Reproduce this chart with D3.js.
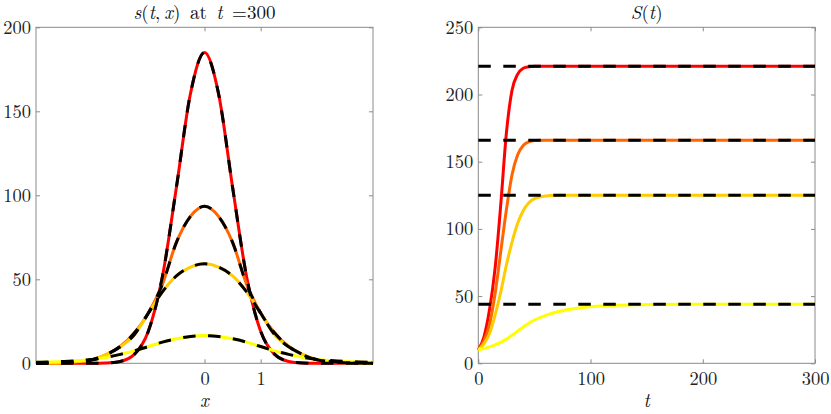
<!DOCTYPE html>
<html><head><meta charset="utf-8">
<script src="https://cdn.jsdelivr.net/npm/d3@7"></script>
<style>body{margin:0;background:#fff}</style>
</head><body>
<svg id="c" width="831" height="414"></svg>
<script>
// ---- Left panel data: s(t,x) at t = 300 ----
const xGrid = [-3,-2.75,-2.5,-2.25,-2,-1.75,-1.5,-1.25,-1,-0.75,-0.5,-0.25,0,0.25,0.5,0.75,1,1.25,1.5,1.75,2,2.25,2.5,2.75,3];
const sRed    = [0,0,0,0,0,0.2,1.1,5.3,19.1,51.5,104.8,160.5,185,160.5,104.8,51.5,19.1,5.3,1.1,0.2,0,0,0,0,0];
const sOrange = [0.05,0.15,0.4,1,2.1,5.2,10,18,30,47,72,87.5,93.5,87.5,72,47,30,18,10,5.2,2.1,1,0.4,0.15,0.05];
const sGold   = [0.05,0.15,0.4,1,2.1,5.1,9.8,17,29.8,42.5,52,57.3,59.2,57.3,52,42.5,29.8,17,9.8,5.1,2.1,1,0.4,0.15,0.05];
const sYellow = [0.6,0.8,1.1,1.6,2.3,3.5,5.3,7.4,10,12.6,14.6,16,16.5,16,14.6,12.6,10,7.4,5.3,3.5,2.3,1.6,1.1,0.8,0.6];
const xTicks = [0,1];
const sTicks = [0,50,100,150,200];

// ---- Right panel data: S(t) ----
const tGrid   = [0,5,10,15,20,25,30,35,40,45,50,60,70,80,90,100,110,120,140,160,200,250,300];
const SRed    = [10,19.5,40,71,118,171,203,215,219.5,220.7,221,221,221,221,221,221,221,221,221,221,221,221,221];
const SOrange = [10,16.5,29,52,83,114,140,155,162,164.8,165.7,166,166,166,166,166,166,166,166,166,166,166,166];
const SGold   = [10,14.5,22,36,53,73,90,104,113.5,119.5,122.5,124.5,125,125,125,125,125,125,125,125,125,125,125];
const SYellow = [10,11,12.2,13.8,15.6,18,20.8,23.9,27,29.8,32.2,35.7,38.2,40,41.2,42,42.6,43,43.5,43.8,44,44,44];
const plateaus = [221,166,125,44];
const tTicks = [0,100,200,300];
const STicks = [0,50,100,150,200,250];

const colors = ["#ff0000","#ff6600","#ffcc00","#ffff00"];
const leftSeries = [sRed,sOrange,sGold,sYellow];
const rightSeries = [SRed,SOrange,SGold,SYellow];

const svg = d3.select("#c");
const FONT = '"Latin Modern Roman","Liberation Serif",serif';
const yTop = 27.3, yBot = 363.3;
const axisCol = "#8a8a8a";

function frame(g, x, y, xt, yt, xFmt) {
  const [x0,x1] = x.range();
  const ax = (gen, tx, ty) => {
    const a = g.append("g").attr("transform",`translate(${tx},${ty})`).call(gen);
    a.select(".domain").remove();
    a.selectAll(".tick line").attr("stroke",axisCol).attr("stroke-width",1);
    a.selectAll("text").style("font-family",FONT).style("font-size","18.5px").attr("fill","#222");
    return a;
  };
  ax(d3.axisBottom(x).tickValues(xt).tickSize(-4).tickPadding(9).tickFormat(xFmt), 0, yBot);
  ax(d3.axisTop(x).tickValues(xt).tickSize(-4).tickFormat(""), 0, yTop);
  ax(d3.axisLeft(y).tickValues(yt).tickSize(-4).tickPadding(5).tickFormat(d3.format("d")), x0, 0);
  ax(d3.axisRight(y).tickValues(yt).tickSize(-4).tickFormat(""), x1, 0);
  g.append("rect").attr("x",x0).attr("y",yTop).attr("width",x1-x0).attr("height",yBot-yTop)
    .attr("fill","none").attr("stroke",axisCol).attr("stroke-width",1);
}

// ---- Left panel ----
const xL = d3.scaleLinear().domain([-3,3]).range([36,373]);
const yL = d3.scaleLinear().domain([0,200]).range([yBot,yTop]);
const gL = svg.append("g");
frame(gL, xL, yL, xTicks, sTicks, d3.format("d"));
const lineL = d3.line().x((d,i)=>xL(xGrid[i])).y(d=>yL(d)).curve(d3.curveMonotoneX);
leftSeries.forEach((s,k)=>{
  gL.append("path").attr("d",lineL(s)).attr("fill","none").attr("stroke",colors[k]).attr("stroke-width",3);
});
leftSeries.forEach((s,k)=>{
  gL.append("path").attr("d",lineL(s)).attr("fill","none").attr("stroke","#000").attr("stroke-width",3)
    .attr("stroke-dasharray","12.5,12.5");
});

// ---- Right panel ----
const xR = d3.scaleLinear().domain([0,300]).range([478.3,815]);
const yR = d3.scaleLinear().domain([0,250]).range([yBot,yTop]);
const gR = svg.append("g");
frame(gR, xR, yR, tTicks, STicks, d3.format("d"));
const lineR = d3.line().x((d,i)=>xR(tGrid[i])).y(d=>yR(d)).curve(d3.curveMonotoneX);
rightSeries.forEach((s,k)=>{
  gR.append("path").attr("d",lineR(s)).attr("fill","none").attr("stroke",colors[k]).attr("stroke-width",3);
});
plateaus.forEach(p=>{
  gR.append("line").attr("x1",xR(0)).attr("x2",xR(300)).attr("y1",yR(p)).attr("y2",yR(p))
    .attr("stroke","#000").attr("stroke-width",3).attr("stroke-dasharray","12.5,12.5");
});

// ---- Titles and labels ----
function mathText(x, y, parts, size) {
  const t = svg.append("text").attr("x",x).attr("y",y).attr("text-anchor","middle")
    .style("font-family",FONT).style("font-size",size+"px").attr("fill","#111");
  parts.forEach(([s,it])=>{
    t.append("tspan").text(s).style("font-style",it?"italic":"normal");
  });
}
mathText(xL(0), 19, [["s",1],["(",0],["t",1],[",\u2009",0],["x",1],[")\u00a0at\u00a0",0],["t",1],["\u00a0=300",0]], 19);
mathText((478.3+815)/2, 19, [["S",1],["(",0],["t",1],[")",0]], 19);
mathText(xL(0), 407, [["x",1]], 19);
mathText((478.3+815)/2, 407, [["t",1]], 19);
</script>
</body></html>
